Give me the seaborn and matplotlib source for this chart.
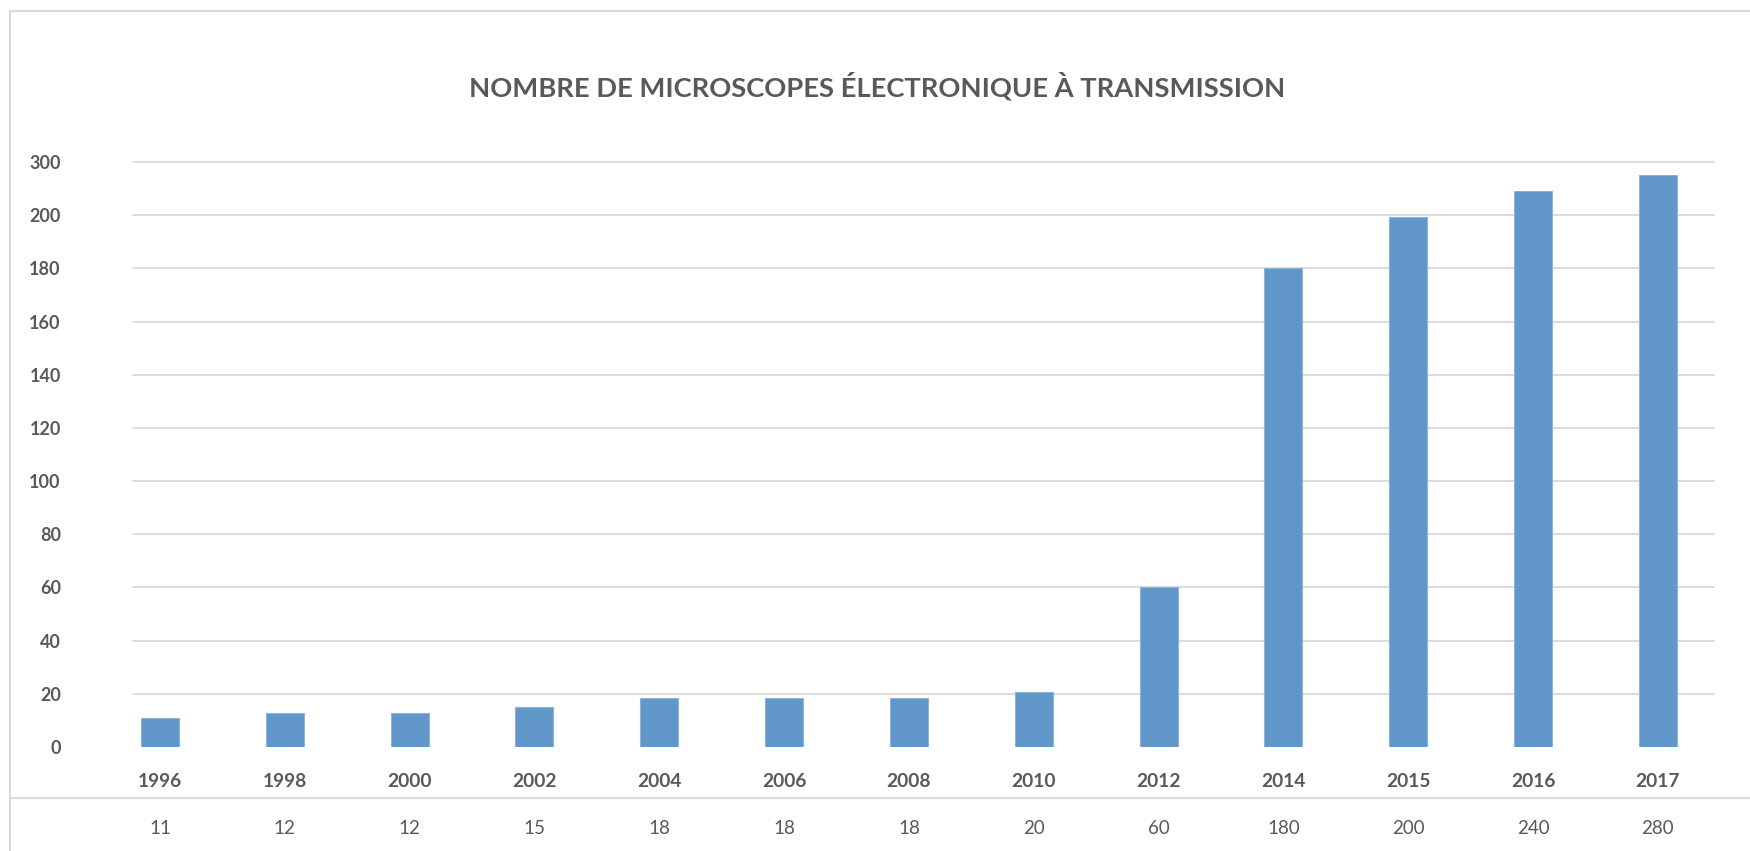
import matplotlib
matplotlib.use("Agg")
import matplotlib.pyplot as plt
import matplotlib.transforms as mtransforms
import pandas as pd
import seaborn as sns

# ---- data ----
years = ["1996", "1998", "2000", "2002", "2004", "2006", "2008",
         "2010", "2012", "2014", "2015", "2016", "2017"]
# values printed in the table under the chart
table_values = [11, 12, 12, 15, 18, 18, 18, 20, 60, 180, 200, 240, 280]
# bar heights as drawn on the (edited) axis
bar_heights = [11, 12.8, 12.8, 15.2, 18.5, 18.5, 18.5, 20.5, 60, 180, 199.5, 209, 215]
ytick_pos = [0, 20, 40, 60, 80, 100, 120, 140, 160, 180, 200, 220]
ytick_labels = ["0", "20", "40", "60", "80", "100", "120", "140", "160", "180", "200", "300"]

df = pd.DataFrame({"year": years, "height": bar_heights})

sns.set_theme(style="white")
plt.rcParams["font.family"] = ["Lato", "DejaVu Sans"]

grey = "#595959"
bar_blue = "#6096C8"

fig = plt.figure(figsize=(17.5, 8.51), dpi=100)
# plot area: gridlines run from x=133 to x=1714 px, y from 162 to 747 px
ax = fig.add_axes([133 / 1750, 1 - 747 / 851, (1714 - 133) / 1750, (747 - 162) / 851])

sns.barplot(data=df, x="year", y="height", order=years, color=bar_blue,
            width=0.305, saturation=1, edgecolor="#8DB3DC", linewidth=0.8, ax=ax)

ax.set_xlim(-0.216, 12.45)
ax.set_ylim(0, 220)
ax.set_yticks(ytick_pos)
ax.set_yticklabels(ytick_labels)
ax.yaxis.grid(True, color="#D9D9D9", linewidth=1.3)
ax.set_axisbelow(True)
for sp in ax.spines.values():
    sp.set_visible(False)
for gl in ax.get_ygridlines():
    gl.set_clip_on(False)
ax.get_ygridlines()[0].set_visible(False)

ax.tick_params(axis="y", length=0, pad=52, labelsize=13, labelcolor=grey)
ax.tick_params(axis="x", length=0, pad=18.5, labelsize=13.8, labelcolor=grey)
for lab in ax.get_yticklabels() + ax.get_xticklabels():
    lab.set_fontweight("bold")
ax.set_xlabel("")
ax.set_ylabel("")

# table row with the values
trans = mtransforms.blended_transform_factory(ax.transData, fig.transFigure)
for i, v in enumerate(table_values):
    ax.text(i, 1 - 829 / 851, str(v), transform=trans, ha="center", va="center",
            fontsize=13.5, color=grey)

# title
fig.text(786 * 1.116 / 1750, 1 - 86 / 851, "NOMBRE DE MICROSCOPES ÉLECTRONIQUE À TRANSMISSION",
         ha="center", va="center", fontsize=19.7, fontweight="bold", color=grey)

# chart frame and table line
frame_col = "#D9D9D9"
fig.add_artist(plt.Line2D([10 / 1750, 10 / 1750], [0, 1 - 11 / 851],
                          transform=fig.transFigure, color=frame_col, linewidth=1.5))
fig.add_artist(plt.Line2D([10 / 1750, 1], [1 - 11 / 851, 1 - 11 / 851],
                          transform=fig.transFigure, color=frame_col, linewidth=1.5))
fig.add_artist(plt.Line2D([10 / 1750, 1], [1 - 798 / 851, 1 - 798 / 851],
                          transform=fig.transFigure, color=frame_col, linewidth=1.5))

fig.savefig("out.png", dpi=100)
